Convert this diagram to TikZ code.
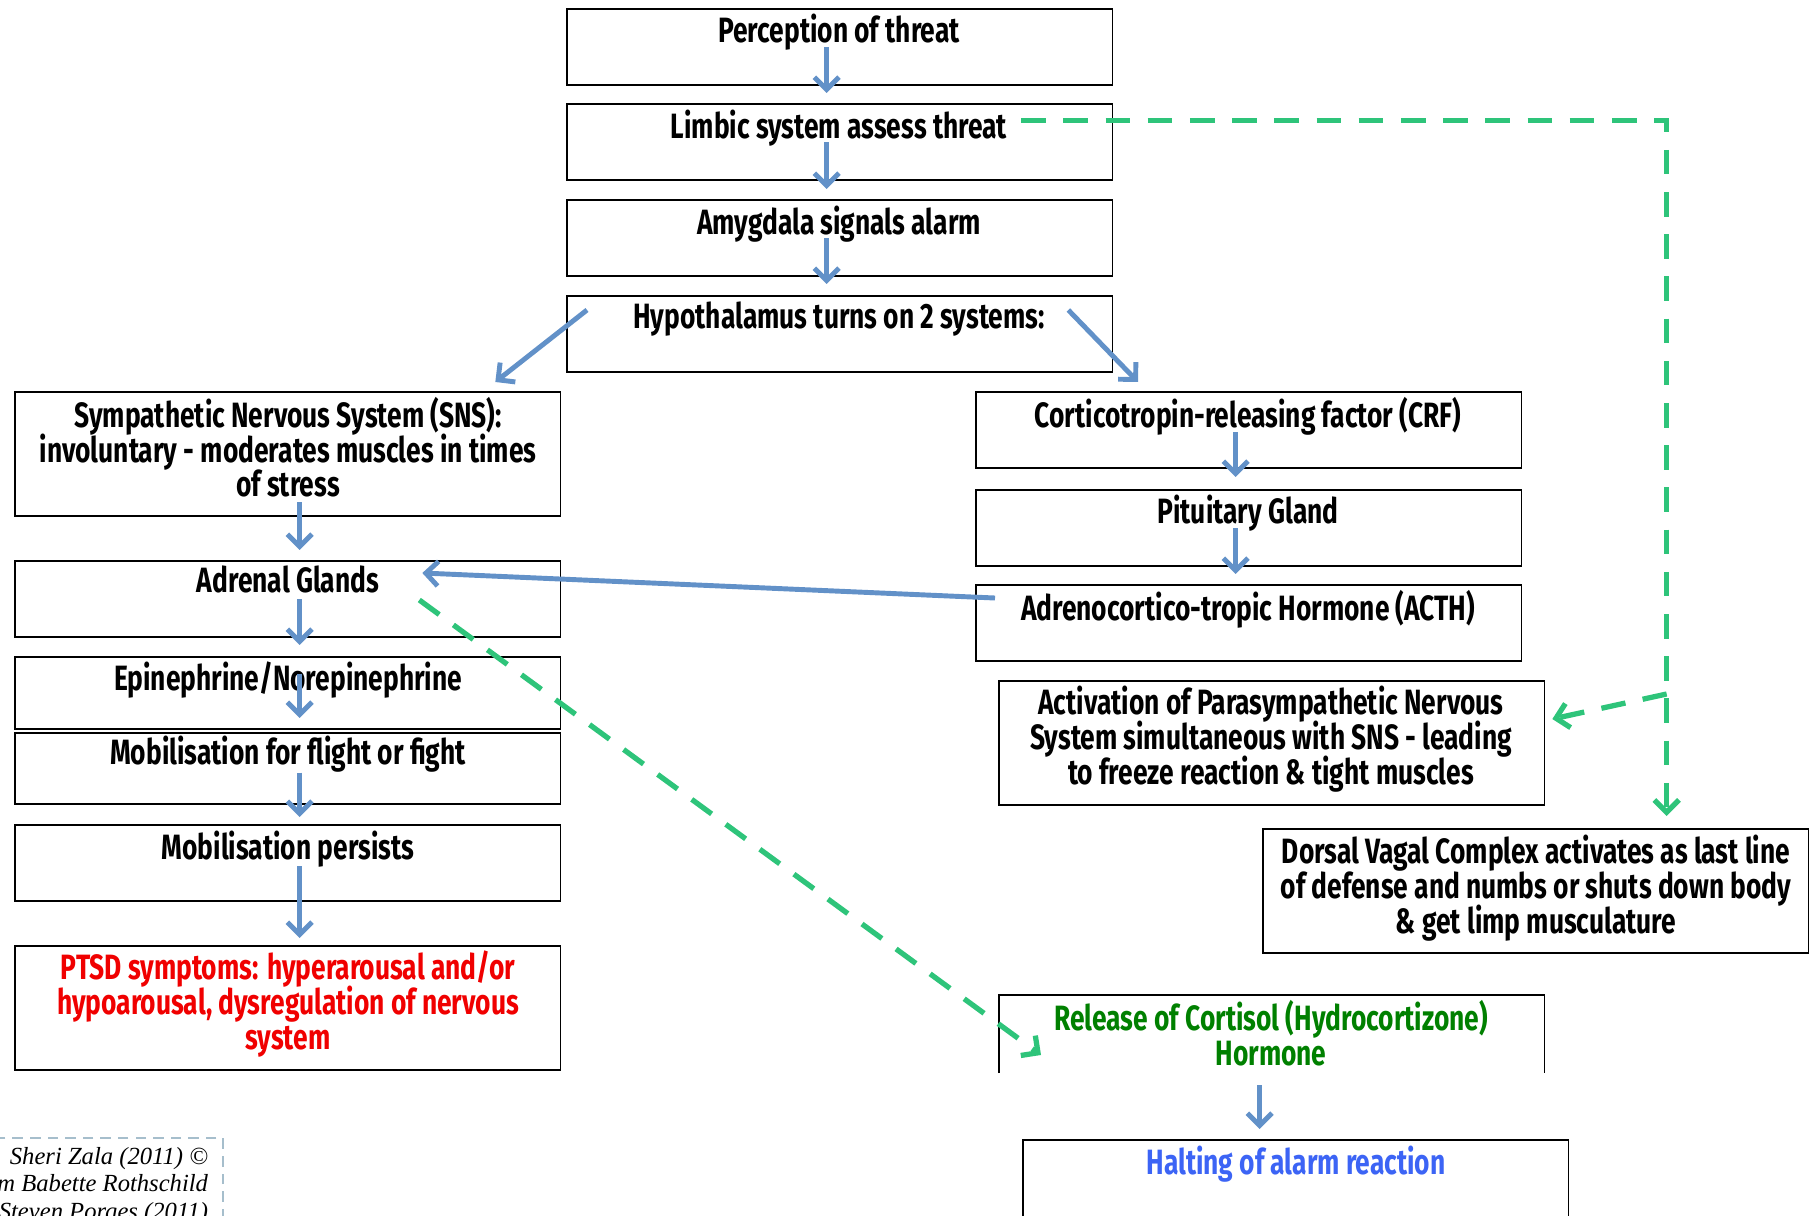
\documentclass[tikz,border=0pt]{standalone}
\usepackage{fontspec}
\usepackage{tikz}
\usetikzlibrary{arrows.meta,calc}
\newfontfamily\chalk{Fira Sans}[FakeStretch=0.75]
\newfontfamily\notefont{Liberation Serif}
\definecolor{arrblue}{RGB}{98,145,200}
\definecolor{dashgreen}{RGB}{46,196,122}
\definecolor{txtred}{RGB}{240,0,0}
\definecolor{txtgreen}{RGB}{0,128,0}
\definecolor{txtblue}{RGB}{60,100,245}
\definecolor{notegrey}{RGB}{166,190,204}
\lineskiplimit=-20pt

\begin{document}
\begin{tikzpicture}[x=0.01cm, y=-0.01cm, outer sep=0pt, >={Straight Barb[length=3.5pt,width=7pt]},
  box/.style={draw, thin, anchor=north west, minimum width=5.45cm, minimum height=0.76cm, inner sep=0pt},
  tall/.style={box, minimum height=1.24cm},
  txt/.style={anchor=north, inner sep=0pt, align=center, font=\chalk\bfseries\fontsize{10}{9.9}\selectfont},
  blu/.style={->, arrblue, line width=1.4pt},
  grn/.style={->, dashgreen, line width=1.5pt, dash pattern=on 7pt off 5pt}]

\useasboundingbox (0,0) rectangle (1815,1216);
\clip (0,0) rectangle (1815,1216);

\node[box] at (567, 9) (P) {};
\node[txt] at (839, 14) (Pt) {Perception of threat};
\node[box] at (567, 104) (L) {};
\node[txt] at (839, 110) (Lt) {Limbic system assess threat};
\node[box] at (567, 200) (A) {};
\node[txt] at (839, 206) (At) {Amygdala signals alarm};
\node[box] at (567, 296) (H) {};
\node[txt] at (839, 302) (Ht) {Hypothalamus turns on 2 systems:};
\draw [blu] ($(P.center)+(-13,0)$) -- ($(L.north)+(-13,-11)$);
\draw [blu] ($(L.center)+(-13,0)$) -- ($(A.north)+(-13,-11)$);
\draw [blu] ($(A.center)+(-13,0)$) -- ($(H.north)+(-13,-12)$);

% sympathetic side
\node[tall] at (15, 392) (SNS) {};
\node[txt] at (288, 397) (SNSt) {Sympathetic Nervous System (SNS):\\involuntary - moderates muscles in times\\of stress};
\node[box] at (15, 561) (AG) {};
\node[txt] at (288, 566) (AGt) {Adrenal Glands};
\node[box, minimum height=0.72cm] at (15, 657) (EN) {};
\node[txt] at (288, 662) (ENt) {Epinephrine/Norepinephrine};
\node[box, minimum height=0.71cm] at (15, 733) (MF) {};
\node[txt] at (288, 736) (MFt) {Mobilisation for flight or fight};
\node[box] at (15, 825) (MP) {};
\node[txt] at (288, 831) (MPt) {Mobilisation persists};
\node[tall] at (15, 946) (PT) {};
\node[txt, txtred] at (288, 951) (PTt) {PTSD symptoms: hyperarousal and/or\\hypoarousal, dysregulation of nervous\\system};
\draw [blu] ($(H.north west)+(20,14)$) -- ($(SNS.north east)+(-65,-10)$);
\draw [blu] ($(SNS.south)+(12,-14)$) -- ($(AG.north)+(12,-11)$);
\draw [blu] ($(AG.center)+(12,0)$) -- ($(EN.north)+(12,-12)$);
\draw [blu] ($(EN.center)+(12,-19)$) -- ($(MF.north)+(12,-15)$);
\draw [blu] ($(MF.center)+(12,4)$) -- ($(MP.north)+(12,-8)$);
\draw [blu] ($(MP.center)+(12,3)$) -- ($(PT.north)+(12,-8)$);

% hormonal side
\node[box] at (976, 392) (CRF) {};
\node[txt] at (1248, 397) (CRFt) {Corticotropin-releasing factor (CRF)};
\node[box] at (976, 490) (PG) {};
\node[txt] at (1248, 495) (PGt) {Pituitary Gland};
\node[box] at (976, 585) (ACTH) {};
\node[txt] at (1248, 590) (ACTHt) {Adrenocortico-tropic Hormone (ACTH)};
\draw [blu] ($(H.north east)+(-44,14)$) -- ($(CRF.north west)+(162,-10)$);
\draw [blu] ($(CRF.center)+(-13,2)$) -- ($(PG.north)+(-13,-13)$);
\draw [blu] ($(PG.center)+(-13,0)$) -- ($(ACTH.north)+(-13,-11)$);
\draw [blu] ($(ACTH.west)+(19,-25)$) -- ($(AG.north east)+(-138,12)$);

\node[tall] at (999, 681) (PNS) {};
\node[txt] at (1271, 686) (PNSt) {Activation of Parasympathetic Nervous\\System simultaneous with SNS - leading\\to freeze reaction \& tight muscles};
\node[tall] at (1263, 829) (DVC) {};
\node[txt] at (1536, 835) (DVCt) {Dorsal Vagal Complex activates as last line\\of defense and numbs or shuts down body\\\& get limp musculature};

\node[box, draw=none, minimum height=0.78cm] at (999, 995) (CO) {};
\draw [thin] (CO.south west) -- (CO.north west) -- (CO.north east) -- (CO.south east);
\node[txt, txtgreen] at (1271, 1000) (COt) {Release of Cortisol (Hydrocortizone)\\Hormone};
\node[box, minimum height=1.2cm] at (1023, 1140) (HA) {};
\node[txt, txtblue] at (1296, 1146) (HAt) {Halting of alarm reaction};
\draw [blu] ($(CO.south)+(-12,12)$) -- ($(HA.north)+(-36,-11)$);

% dashed links
\draw [grn] ($(Lt.east)+(14,-8)$) -| ($(DVC.north)+(131,-13)$);
\draw [grn] ($(DVC.north)+(131,-135)$) -- ($(PNS.east)+(8,-24)$);
\draw [grn] ($(AG.north east)+(-141,39)$) -- ($(CO.north west)+(42,60)$);

\node[draw=notegrey, densely dashed, thin, anchor=north east, minimum width=2.6cm, minimum height=1.2cm] at (223, 1138) (note) {};
\node[anchor=north east, align=right, inner sep=0pt, font=\notefont\itshape\fontsize{7}{7.9}\selectfont] at (208, 1147) (notet) {Sheri Zala (2011) ©\\m Babette Rothschild\\Steven Porges (2011)};

\end{tikzpicture}
\end{document}
